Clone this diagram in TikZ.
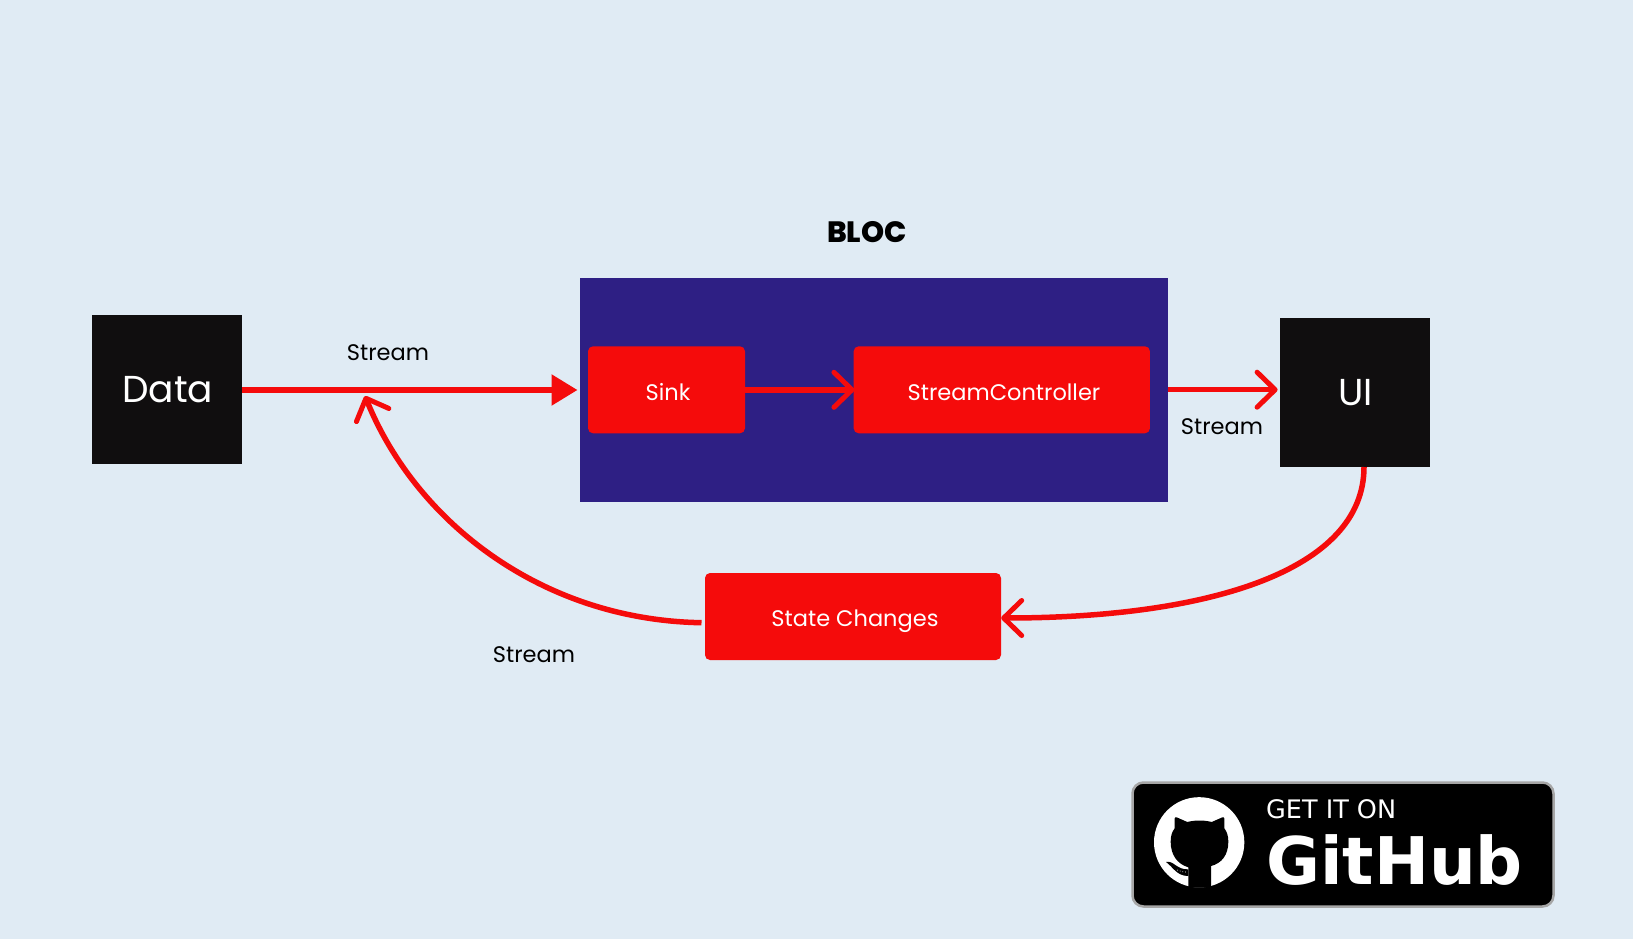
\documentclass[tikz,border=0pt]{standalone}
\usepackage{fontspec}
\setmainfont{Poppins}
\newfontfamily\badgefont{DejaVu Sans}
\newfontfamily\titlefont{Poppins ExtraBold}
\definecolor{pagebg}{HTML}{E0EBF4}
\definecolor{blocblue}{HTML}{2E1F84}
\definecolor{flowred}{HTML}{F50B0B}
\definecolor{boxblack}{HTML}{100E0F}
\definecolor{badgeedge}{HTML}{A6A6A6}
\usetikzlibrary{arrows.meta}
\begin{document}
\begin{tikzpicture}[
  x=1pt, y=-1pt,
  blackbox/.style={rectangle, fill=boxblack, text=white, minimum width=150pt, minimum height=149.5pt, inner sep=0pt, font=\fontsize{37.5}{37.5}\selectfont},
  redbox/.style={rectangle, rounded corners=5pt, fill=flowred, text=white, minimum height=87pt, inner sep=0pt},
  boxlabel/.style={text=white, inner sep=0pt, font=\fontsize{22.5}{22.5}\selectfont},
  flowlabel/.style={inner sep=0pt, font=\fontsize{22.5}{22.5}\selectfont},
  flow/.style={draw=flowred, line width=5.5pt},
  openhead/.style={-{Straight Barb[length=18pt, width=35pt, line width=5pt, round]}},
  solidhead/.style={-{Triangle[length=26pt, width=30pt]}}
]
\useasboundingbox (0,0) rectangle (1633,939);
\fill[pagebg] (0,0) rectangle (1633,939);

% Main row
\node[blackbox] (data) at (166.8,389.7) {\hspace{2pt}\raisebox{-2pt}{Data}};
\node[rectangle, fill=blocblue, minimum width=588pt, minimum height=224pt, inner sep=0pt] (bloc) at (874,389.7) {};
\node[font=\titlefont\fontsize{29.4}{29.4}\selectfont] (bloc_title) at (867,232) {BLOC};
\node[redbox, minimum width=157pt] (sink) at (666.5,389.8) {};
\node[boxlabel] (sink_text) at (668,392) {Sink};
\node[redbox, minimum width=296.3pt] (ctrl) at (1001.8,389.8) {};
\node[boxlabel] (ctrl_text) at (1004,392) {StreamController};
\node[blackbox] (ui) at (1354.8,392.7) {\hspace{1pt}\raisebox{-2pt}{UI}};

% Bottom row
\node[redbox, minimum width=296pt] (state) at (853,616.5) {};
\node[boxlabel] (state_text) at (855,621) {State Changes};

% Labels
\node[flowlabel] (lbl_top) at (388,353) {Stream};
\node[flowlabel] (lbl_right) at (1222,427) {Stream};
\node[flowlabel] (lbl_bottom) at (534,655) {Stream};

% Free ends
\coordinate (data_in) at (577.5,390);
\coordinate (merge) at (365,396);

% Arrows
\draw[flow, solidhead] (data.east |- data_in) -- (data_in);
\draw[flow, openhead, shorten >=-1pt] (sink.east) -- (ctrl.west);
\draw[flow, openhead, shorten >=2pt] (bloc.east) -- (ui.west |- bloc.east);
\draw[flow, openhead] (1364,467) .. controls (1364,570) and (1210,618) .. (state.east |- 0,618);
\draw[flow, openhead] (701.5,622.7) .. controls (540,620) and (415,520) .. (merge);

% Badge
\node[rectangle, rounded corners=11pt, fill=black, draw=badgeedge, line width=2.5pt, minimum width=421pt, minimum height=124pt, inner sep=0pt] (badge) at (1343,844.5) {};
\node[anchor=west, inner sep=0pt, text=white, font=\badgefont\fontsize{25.5}{25.5}\selectfont] (badge_top) at (1266,809) {GET IT ON};
\node[anchor=west, inner sep=0pt, text=white, font=\badgefont\bfseries\fontsize{65.7}{65.7}\selectfont] (badge_name) at (1266,860) {GitHub};

% Logo
\begin{scope}[shift={(1140,790)}, x=0.3333pt, y=-0.3333pt]
\fill[white] (177.5,157) circle [radius=135.5pt*0.3333];
\fill[black] (145,293) -- (145,232) .. controls (112,222) and (92,195) .. (92,155)
  .. controls (92,138) and (96,125) .. (104,115) -- (104,86) .. controls (104,82) and (106,81) .. (110,82)
  -- (142,96) .. controls (165,90) and (192,90) .. (215,96) -- (247,82) .. controls (251,81) and (253,82) .. (253,86)
  -- (253,115) .. controls (261,125) and (265,138) .. (265,155)
  .. controls (265,195) and (245,220) .. (213,228) -- (213,293) -- cycle;
\fill[black] (78,216) .. controls (100,210) and (110,240) .. (145,238) -- (145,258)
  .. controls (110,258) and (100,232) .. (78,216) -- cycle;
\draw[white, line width=0.7pt, dotted] (112,240) .. controls (120,245) and (130,246) .. (142,246);
\end{scope}
\end{tikzpicture}
\end{document}
